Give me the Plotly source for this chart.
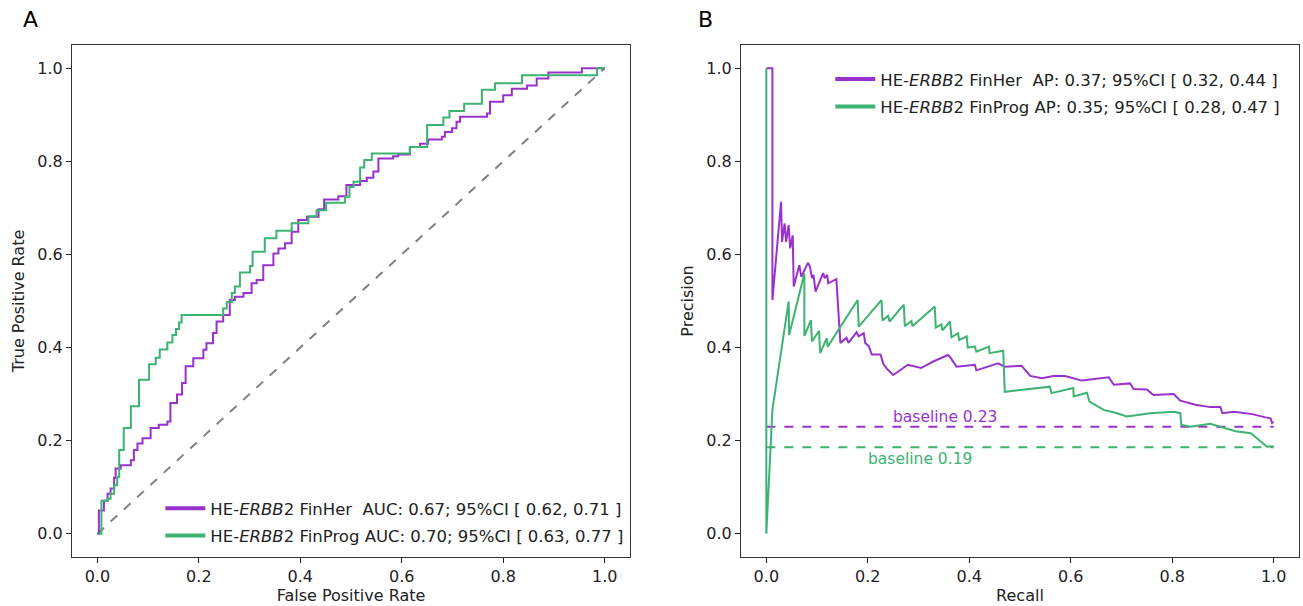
import plotly.graph_objects as go

# ---------------- data ----------------
# ROC, HE-ERBB2 FinHer (step corners)
fpr_her = [0, 0.003, 0.013, 0.020, 0.026, 0.033, 0.036, 0.046, 0.066, 0.072, 0.079, 0.089, 0.105, 0.121,
           0.138, 0.144, 0.157, 0.167, 0.174, 0.189, 0.209, 0.215, 0.228, 0.235, 0.248, 0.261, 0.271, 0.288,
           0.304, 0.314, 0.327, 0.347, 0.357, 0.370, 0.383, 0.396, 0.413, 0.436, 0.447, 0.475, 0.491, 0.518,
           0.531, 0.544, 0.554, 0.583, 0.593, 0.616, 0.636, 0.652, 0.679, 0.685, 0.699, 0.708, 0.715, 0.768,
           0.774, 0.800, 0.817, 0.847, 0.866, 0.889, 0.955, 1.0]
tpr_her = [0, 0.05, 0.071, 0.086, 0.097, 0.120, 0.140, 0.147, 0.158, 0.180, 0.194, 0.205, 0.227, 0.234,
           0.241, 0.281, 0.299, 0.324, 0.360, 0.377, 0.395, 0.409, 0.431, 0.456, 0.470, 0.502, 0.509, 0.517,
           0.538, 0.545, 0.577, 0.602, 0.613, 0.624, 0.649, 0.674, 0.681, 0.697, 0.718, 0.725, 0.749, 0.758,
           0.765, 0.778, 0.806, 0.811, 0.815, 0.831, 0.838, 0.847, 0.853, 0.863, 0.871, 0.885, 0.896, 0.903,
           0.928, 0.942, 0.956, 0.963, 0.978, 0.991, 1.0, 1.0]

# ROC, HE-ERBB2 FinProg (step corners)
fpr_prog = [0, 0.008, 0.020, 0.026, 0.033, 0.039, 0.043, 0.052, 0.066, 0.082, 0.102, 0.115, 0.123, 0.138,
            0.148, 0.155, 0.161, 0.166, 0.248, 0.255, 0.265, 0.271, 0.281, 0.301, 0.306, 0.330, 0.353, 0.383,
            0.416, 0.432, 0.451, 0.488, 0.497, 0.505, 0.518, 0.526, 0.541, 0.616, 0.650, 0.682, 0.694, 0.723,
            0.758, 0.784, 0.837, 0.985, 1.0]
tpr_prog = [0, 0.071, 0.075, 0.086, 0.104, 0.122, 0.180, 0.227, 0.274, 0.331, 0.364, 0.378, 0.396, 0.411,
            0.427, 0.440, 0.454, 0.470, 0.484, 0.498, 0.517, 0.531, 0.561, 0.575, 0.606, 0.635, 0.651, 0.667,
            0.682, 0.695, 0.711, 0.724, 0.745, 0.756, 0.787, 0.803, 0.817, 0.831, 0.878, 0.894, 0.908, 0.924,
            0.954, 0.968, 0.985, 1.0, 1.0]

# Precision-recall, FinHer
rec_her = [0, 0.012, 0.012, 0.029, 0.031, 0.036, 0.039, 0.044, 0.047, 0.052, 0.054, 0.065, 0.069, 0.082,
           0.086, 0.090, 0.093, 0.097, 0.112, 0.115, 0.120, 0.122, 0.138, 0.142, 0.146, 0.158, 0.162, 0.178,
           0.182, 0.192, 0.195, 0.202, 0.208, 0.225, 0.231, 0.238, 0.250, 0.279, 0.305, 0.329, 0.358, 0.362,
           0.375, 0.411, 0.414, 0.457, 0.470, 0.503, 0.520, 0.543, 0.566, 0.589, 0.622, 0.675, 0.685, 0.717,
           0.724, 0.750, 0.763, 0.803, 0.816, 0.846, 0.875, 0.895, 0.899, 0.922, 0.958, 0.984, 0.994, 0.997, 1.0]
prec_her = [1.0, 1.0, 0.502, 0.713, 0.627, 0.667, 0.627, 0.663, 0.613, 0.641, 0.531, 0.577, 0.552, 0.582,
            0.574, 0.549, 0.556, 0.520, 0.560, 0.549, 0.556, 0.538, 0.547, 0.470, 0.410, 0.421, 0.410, 0.433,
            0.424, 0.431, 0.410, 0.403, 0.385, 0.385, 0.364, 0.354, 0.341, 0.363, 0.356, 0.370, 0.384, 0.380,
            0.359, 0.363, 0.351, 0.366, 0.359, 0.361, 0.339, 0.334, 0.339, 0.339, 0.329, 0.336, 0.320, 0.323,
            0.311, 0.310, 0.298, 0.300, 0.286, 0.277, 0.272, 0.272, 0.259, 0.262, 0.257, 0.250, 0.248, 0.238, 0.240]

# Precision-recall, FinProg
rec_prog = [0, 0, 0.012, 0.029, 0.044, 0.045, 0.075, 0.075, 0.088, 0.090, 0.104, 0.106, 0.119, 0.121,
            0.180, 0.182, 0.227, 0.229, 0.240, 0.243, 0.271, 0.273, 0.286, 0.288, 0.332, 0.334, 0.345, 0.347,
            0.362, 0.365, 0.378, 0.380, 0.395, 0.397, 0.411, 0.414, 0.439, 0.440, 0.467, 0.470, 0.559, 0.562,
            0.605, 0.606, 0.632, 0.637, 0.665, 0.688, 0.711, 0.757, 0.803, 0.816, 0.818, 0.836, 0.875, 0.925,
            0.955, 0.987, 1.0]
prec_prog = [1.0, 0.0, 0.266, 0.395, 0.499, 0.427, 0.559, 0.425, 0.459, 0.413, 0.436, 0.388, 0.420, 0.402,
             0.502, 0.445, 0.502, 0.458, 0.468, 0.456, 0.492, 0.446, 0.457, 0.446, 0.488, 0.443, 0.450, 0.437,
             0.456, 0.422, 0.431, 0.416, 0.424, 0.400, 0.402, 0.391, 0.402, 0.388, 0.393, 0.305, 0.316, 0.302,
             0.313, 0.295, 0.303, 0.284, 0.266, 0.260, 0.252, 0.259, 0.262, 0.259, 0.234, 0.230, 0.236, 0.220,
             0.216, 0.187, 0.188]

baseline_her = 0.23
baseline_prog = 0.186
baseline_labels = ["baseline 0.23", "baseline 0.19"]

roc_names = ["HE-<i>ERBB</i>2 FinHer\u00a0\u00a0AUC: 0.67; 95%CI [ 0.62, 0.71 ]",
             "HE-<i>ERBB</i>2 FinProg AUC: 0.70; 95%CI [ 0.63, 0.77 ]"]
pr_names = ["HE-<i>ERBB</i>2 FinHer\u00a0\u00a0AP: 0.37; 95%CI [ 0.32, 0.44 ]",
            "HE-<i>ERBB</i>2 FinProg AP: 0.35; 95%CI [ 0.28, 0.47 ]"]

tick_vals = [0.0, 0.2, 0.4, 0.6, 0.8, 1.0]
tick_text = ["0.0", "0.2", "0.4", "0.6", "0.8", "1.0"]

for a, b in [(fpr_her, tpr_her), (fpr_prog, tpr_prog), (rec_her, prec_her), (rec_prog, prec_prog)]:
    assert len(a) == len(b)

# ---------------- style ----------------
PURPLE = "#9932CC"
GREEN = "#3CB371"
FONT = "DejaVu Sans"
LEG_SIZE = 16.5
TICK_SIZE = 16
TITLE_SIZE = 16

fig = go.Figure()

# chance diagonal
fig.add_trace(go.Scatter(x=[0, 1], y=[0, 1], mode="lines", showlegend=False,
                         line=dict(color="#808080", width=2, dash="dash"),
                         xaxis="x", yaxis="y", hoverinfo="skip"))
fig.add_trace(go.Scatter(x=fpr_her, y=tpr_her, mode="lines", line_shape="hv",
                         line=dict(color=PURPLE, width=2), name=roc_names[0], legendgroup="r1",
                         showlegend=False, xaxis="x", yaxis="y"))
fig.add_trace(go.Scatter(x=fpr_prog, y=tpr_prog, mode="lines", line_shape="hv",
                         line=dict(color=GREEN, width=2), name=roc_names[1], legendgroup="r2",
                         showlegend=False, xaxis="x", yaxis="y"))
# legend keys (thicker lines, as in the reference)
for nm, col, grp in [(roc_names[0], PURPLE, "r1"), (roc_names[1], GREEN, "r2")]:
    fig.add_trace(go.Scatter(x=[None], y=[None], mode="lines", line=dict(color=col, width=4),
                             name=nm, legendgroup=grp, xaxis="x", yaxis="y", legend="legend"))

# PR panel
fig.add_trace(go.Scatter(x=[0, 1], y=[baseline_her, baseline_her], mode="lines", showlegend=False,
                         line=dict(color=PURPLE, width=2, dash="dash"), xaxis="x2", yaxis="y2"))
fig.add_trace(go.Scatter(x=[0, 1], y=[baseline_prog, baseline_prog], mode="lines", showlegend=False,
                         line=dict(color=GREEN, width=2, dash="dash"), xaxis="x2", yaxis="y2"))
fig.add_trace(go.Scatter(x=rec_her, y=prec_her, mode="lines",
                         line=dict(color=PURPLE, width=2), name=pr_names[0], legendgroup="p1",
                         showlegend=False, xaxis="x2", yaxis="y2"))
fig.add_trace(go.Scatter(x=rec_prog, y=prec_prog, mode="lines",
                         line=dict(color=GREEN, width=2), name=pr_names[1], legendgroup="p2",
                         showlegend=False, xaxis="x2", yaxis="y2"))
for nm, col, grp in [(pr_names[0], PURPLE, "p1"), (pr_names[1], GREEN, "p2")]:
    fig.add_trace(go.Scatter(x=[None], y=[None], mode="lines", line=dict(color=col, width=4),
                             name=nm, legendgroup=grp, xaxis="x2", yaxis="y2", legend="legend2"))

axis_common = dict(range=[-0.05, 1.05], tickvals=tick_vals, ticktext=tick_text,
                   ticks="outside", ticklen=5, tickwidth=1, tickcolor="#222",
                   showline=True, linecolor="#333", linewidth=1.2, mirror=True,
                   showgrid=False, zeroline=False, automargin=False,
                   tickfont=dict(family=FONT, size=TICK_SIZE, color="#222"))

fig.update_layout(
    width=1303, height=606,
    margin=dict(l=72, r=4, t=45, b=49),
    paper_bgcolor="white", plot_bgcolor="white",
    font=dict(family=FONT, color="#222"),
    xaxis=dict(domain=[0, 0.4548], anchor="y",
               title=dict(text="False Positive Rate", font=dict(size=TITLE_SIZE, family=FONT), standoff=4),
               **axis_common),
    yaxis=dict(domain=[0, 1], anchor="x",
               title=dict(text="True Positive Rate", font=dict(size=TITLE_SIZE, family=FONT), standoff=8),
               **axis_common),
    xaxis2=dict(domain=[0.5452, 1], anchor="y2",
                title=dict(text="Recall", font=dict(size=TITLE_SIZE, family=FONT), standoff=4),
                **axis_common),
    yaxis2=dict(domain=[0, 1], anchor="x2",
                title=dict(text="Precision", font=dict(size=TITLE_SIZE, family=FONT), standoff=8),
                **axis_common),
    legend=dict(x=0.072, y=0.008, xanchor="left", yanchor="bottom",
                bgcolor="rgba(255,255,255,0)", font=dict(family=FONT, size=LEG_SIZE, color="#222"),
                tracegroupgap=3, itemwidth=40),
    legend2=dict(x=0.618, y=0.967, xanchor="left", yanchor="top",
                 bgcolor="rgba(255,255,255,0)", font=dict(family=FONT, size=LEG_SIZE, color="#222"),
                 tracegroupgap=3, itemwidth=40),
    annotations=[
        dict(text="A", x=-0.034, y=1.049, xref="paper", yref="paper", showarrow=False,
             font=dict(family=FONT, size=22, color="black"), xanchor="center", yanchor="middle"),
        dict(text="B", x=0.516, y=1.049, xref="paper", yref="paper", showarrow=False,
             font=dict(family=FONT, size=22, color="black"), xanchor="center", yanchor="middle"),
        dict(text=baseline_labels[0], x=0.352, y=baseline_her, xref="x2", yref="y2", showarrow=False,
             font=dict(family=FONT, size=15.5, color=PURPLE), xanchor="center", yanchor="bottom", yshift=-1),
        dict(text=baseline_labels[1], x=0.302, y=baseline_prog, xref="x2", yref="y2", showarrow=False,
             font=dict(family=FONT, size=15.5, color=GREEN), xanchor="center", yanchor="top", yshift=-1),
    ],
)

fig.write_html("out.html", config={"displayModeBar": False},
               post_script="document.body.style.margin='0';")
